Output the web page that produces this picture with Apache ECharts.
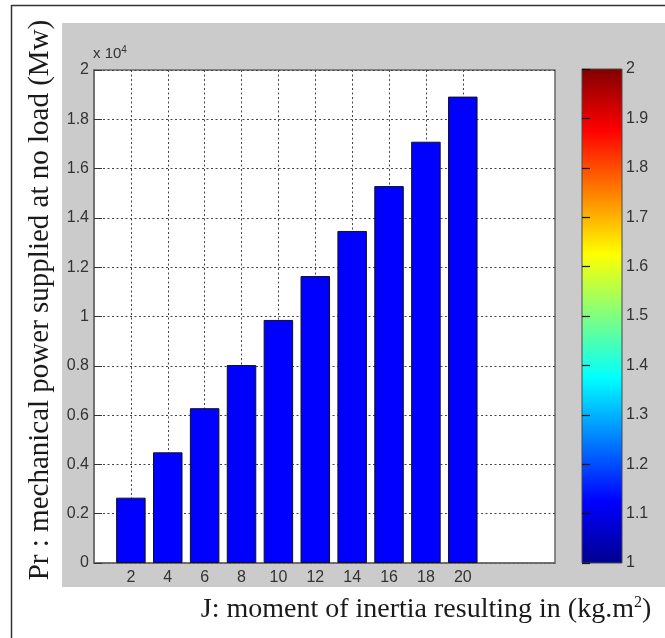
<!DOCTYPE html>
<html>
<head>
<meta charset="utf-8">
<script src="https://cdn.jsdelivr.net/npm/echarts@6/dist/echarts.min.js"></script>
<style>
  html, body { margin: 0; padding: 0; background: #fff; }
  #chart { width: 665px; height: 638px; }
</style>
</head>
<body>
<div id="chart"></div>
<script>
// Moment of inertia J (kg.m^2), one bar per value
const inertia = [2, 4, 6, 8, 10, 12, 14, 16, 18, 20];
// Mechanical power supplied at no load (MW)
const power = [2650, 4490, 6280, 8030, 9860, 11640, 13470, 15290, 17090, 18920];
// Power axis: range, step and the common exponent shown above it
const powerMin = 0;
const powerMax = 20000;
const powerStep = 2000;
const powerExp = 4;
// Inertia axis range
const inertiaMin = 0;
const inertiaMax = 25;
// Colour bar scale
const cbarMin = 1;
const cbarMax = 2;
const cbarStep = 0.1;
// Jet colour map stops (bottom to top)
const jetStops = [
  [0, '#00008f'], [0.125, '#0000ff'], [0.375, '#00ffff'],
  [0.625, '#ffff00'], [0.875, '#ff0000'], [1, '#800000']
];

const tickFont = { fontFamily: 'Liberation Sans', fontSize: 16, color: '#333' };
const gridDots = { type: [2, 2.5], color: '#444', width: 1 };
const TICK = 4;

// A tick-only axis shifted into the box by the tick length, so its outward
// ticks end on the box edge and point into the plot.
function tickOnlyAxis(base, color, width, values) {
  const tick = { show: true, inside: false, length: TICK, lineStyle: { color, width } };
  if (values) tick.customValues = values;
  return Object.assign({
    offset: -TICK,
    axisLine: { show: false },
    axisTick: tick,
    axisLabel: { show: false },
    splitLine: { show: false }
  }, base);
}

const chart = echarts.init(document.getElementById('chart'), null, { renderer: 'canvas' });

// colour bar fill, painted as the background of its own small grid
const jetGradient = new echarts.graphic.LinearGradient(0, 1, 0, 0,
  jetStops.map(([offset, color]) => ({ offset, color })));

const xMain = { gridIndex: 0, type: 'value', min: inertiaMin, max: inertiaMax };
const yMain = { gridIndex: 0, type: 'value', min: powerMin, max: powerMax, interval: powerStep };
const yBar = { gridIndex: 1, type: 'value', min: cbarMin, max: cbarMax, interval: cbarStep };

chart.setOption({
  backgroundColor: '#fff',
  animation: false,
  grid: [
    { left: 94, top: 70, width: 461, height: 493, show: true,
      backgroundColor: '#fff', borderColor: '#6a6a6a', borderWidth: 1.5 },
    { left: 582, top: 69, width: 40, height: 494, show: true,
      backgroundColor: jetGradient, borderColor: '#4a4a4a', borderWidth: 1 }
  ],
  xAxis: [
    Object.assign({}, xMain, { position: 'bottom',
      axisLine: { show: true, lineStyle: { color: '#6a6a6a', width: 1.5 } },
      // hidden here (drawn by the tick-only axes), but its values place the grid lines
      axisTick: { show: false, customValues: inertia },
      axisLabel: Object.assign({ customValues: inertia, margin: 7 }, tickFont),
      splitLine: { show: true, lineStyle: gridDots } }),
    tickOnlyAxis(Object.assign({}, xMain, { position: 'bottom' }), '#333', 1, inertia),
    tickOnlyAxis(Object.assign({}, xMain, { position: 'top' }), '#333', 1, inertia),
    { gridIndex: 1, type: 'value', min: 0, max: 1, show: false }
  ],
  yAxis: [
    Object.assign({}, yMain, { position: 'left',
      name: 'x 10{e|' + powerExp + '}', nameLocation: 'end', nameGap: 7,
      nameTextStyle: { align: 'left', fontFamily: 'Liberation Sans', fontSize: 15,
        color: '#333', padding: [0, 0, 0, -1],
        rich: { e: { fontSize: 10, verticalAlign: 'top', padding: [0, 0, 8, 0],
          fontFamily: 'Liberation Sans', color: '#333' } } },
      axisLine: { show: true, lineStyle: { color: '#6a6a6a', width: 1.5 } },
      axisTick: { show: false },
      axisLabel: Object.assign({ margin: 5,
        formatter: v => String(v / Math.pow(10, powerExp)) }, tickFont),
      splitLine: { show: true, lineStyle: gridDots } }),
    tickOnlyAxis(Object.assign({}, yMain, { position: 'left' }), '#333', 1),
    tickOnlyAxis(Object.assign({}, yMain, { position: 'right' }), '#333', 1),
    // colour bar scale with its labels on the right
    Object.assign(tickOnlyAxis(Object.assign({}, yBar, { position: 'right' }), '#111', 1.2),
      { axisLabel: Object.assign({ show: true, margin: 4 + TICK }, tickFont) }),
    tickOnlyAxis(Object.assign({}, yBar, { position: 'left' }), '#111', 1.2)
  ],
  series: [
    { type: 'bar', xAxisIndex: 0, yAxisIndex: 0, barWidth: '80%',
      data: inertia.map((j, i) => [j, power[i]]),
      itemStyle: { color: '#0000ff', borderColor: '#111', borderWidth: 1 } }
  ],
  graphic: {
    elements: [
      { type: 'rect', z: -100, shape: { x: 62, y: 23, width: 603, height: 564 },
        style: { fill: '#cbcbcb' } },
      { type: 'line', shape: { x1: 11.5, y1: 5.5, x2: 665, y2: 5.5 },
        style: { stroke: '#333', lineWidth: 1.5 } },
      { type: 'line', shape: { x1: 11.5, y1: 5, x2: 11.5, y2: 638 },
        style: { stroke: '#333', lineWidth: 1.5 } },
      { type: 'text', x: 40, y: 300, rotation: Math.PI / 2,
        style: { text: 'Pr : mechanical power supplied at no load (Mw)',
          font: '29px "Liberation Serif"', fill: '#1a1a1a',
          align: 'center', verticalAlign: 'middle' } },
      { type: 'text', x: 426, y: 610,
        style: { text: '{a|J: moment of inertia resulting in (kg.m}{s|2}{a|)}',
          align: 'center', verticalAlign: 'middle',
          rich: {
            a: { font: '28px "Liberation Serif"', fill: '#1a1a1a', color: '#1a1a1a' },
            s: { font: '16px "Liberation Serif"', fill: '#1a1a1a', color: '#1a1a1a',
              verticalAlign: 'top', padding: [0, 0, 14, 0] }
          } } }
    ]
  }
});
</script>
</body>
</html>
